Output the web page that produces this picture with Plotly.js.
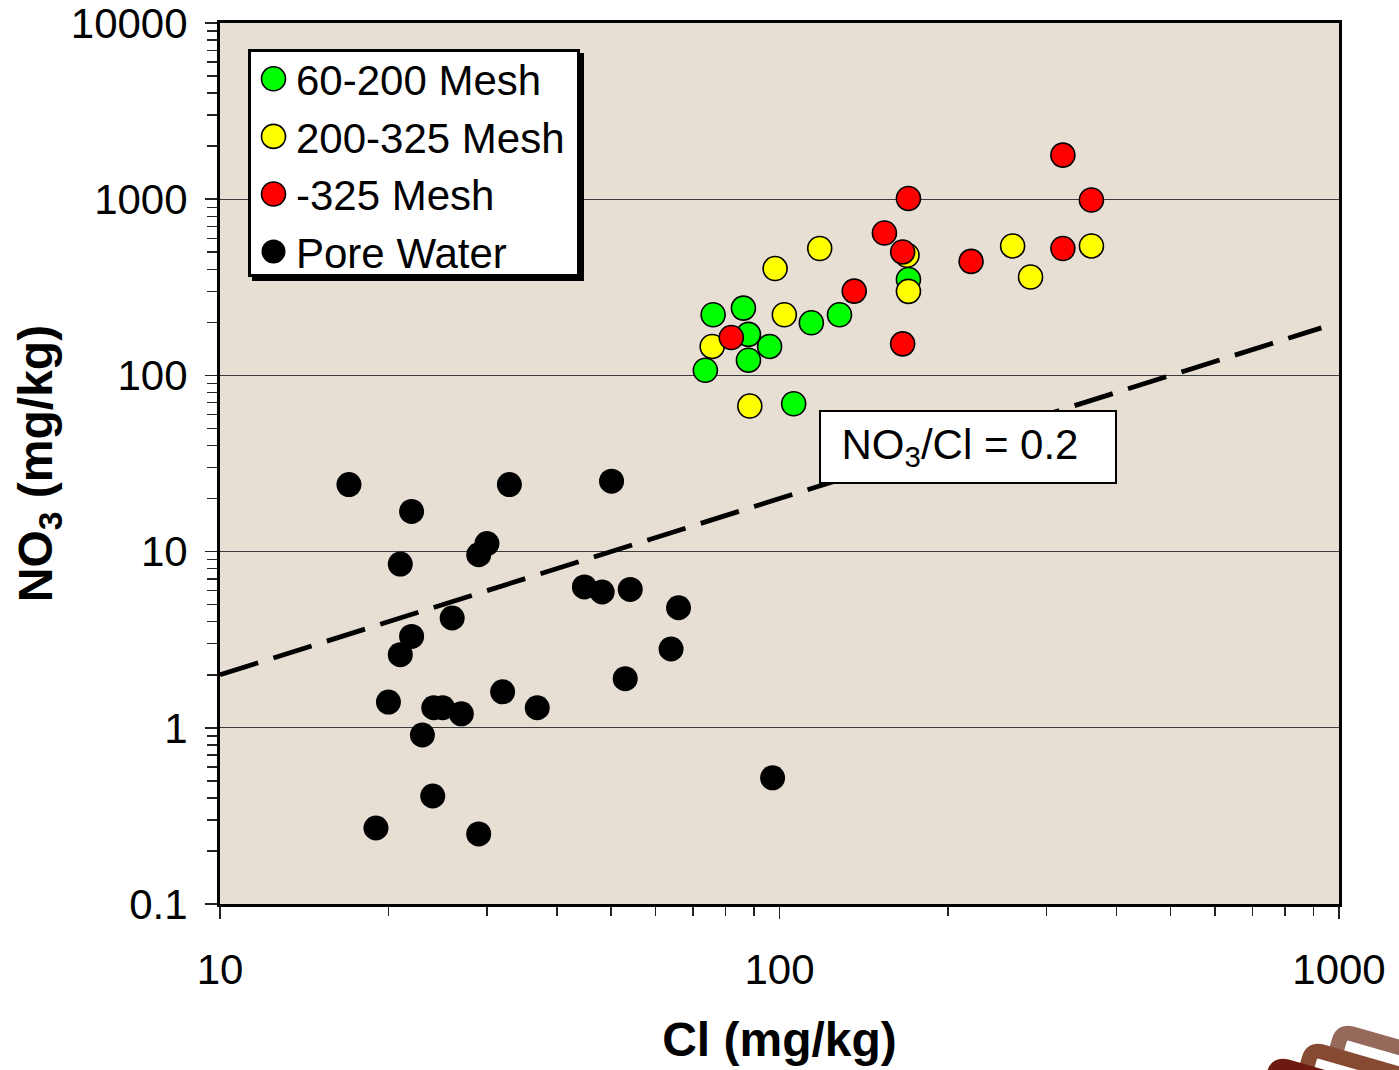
<!DOCTYPE html>
<html>
<head>
<meta charset="utf-8">
<script src="https://cdn.plot.ly/plotly-3.0.1.min.js"></script>
<style>
  html, body { margin: 0; padding: 0; background: #ffffff; }
  #chart { width: 1399px; height: 1070px; }
</style>
</head>
<body>
<div id="chart"></div>
<script>
// ---- Data ----
const greenName = '60-200 Mesh';
const greenCl  = [170, 76.1, 86.2, 88.0, 96.0, 88.0, 114, 128, 73.7, 106];
const greenNO3 = [350, 221, 241, 171, 146, 122, 199, 221, 107, 69];

const yellowName = '200-325 Mesh';
const yellowCl  = [118, 261, 361, 169, 98.2, 281, 170, 102, 75.8, 88.5];
const yellowNO3 = [525, 543, 543, 481, 404, 362, 300, 221, 146, 67];

const redName = '-325 Mesh';
const redCl  = [321, 170, 361, 154, 166, 321, 220, 136, 82, 166];
const redNO3 = [1780, 1010, 990, 643, 502, 525, 444, 301, 164, 151];

const poreName = 'Pore Water';
const poreCl  = [17.0, 32.9, 50.1, 22.0, 30.0, 29.0, 21.0, 44.8, 48.2, 54.1, 66.0, 26.0, 22.0, 21.0, 64.0, 53.0, 20.0, 24.1, 25.0, 27.0, 32.0, 36.9, 23.0, 24.0, 19.0, 29.0, 97.2];
const poreNO3 = [24.0, 24.0, 25.1, 16.9, 11.1, 9.6, 8.5, 6.3, 5.9, 6.1, 4.8, 4.2, 3.3, 2.6, 2.8, 1.9, 1.4, 1.3, 1.3, 1.2, 1.6, 1.3, 0.91, 0.41, 0.27, 0.25, 0.52];

// NO3/Cl = 0.2 reference line
const ratioCl  = [10, 930];
const ratioNO3 = [2, 186];
const ratioLabel = 'NO<sub>3</sub>/Cl = 0.2';
const ratioLabelCl = 217;
const ratioLabelNO3 = 39;

// Axis ticks
const xTickVals = [10, 100, 1000];
const xTickText = ['10', '100', '1000'];
const yTickVals = [0.1, 1, 10, 100, 1000, 10000];
const yTickText = ['0.1', '1', '10', '100', '1000', '10000'];
const xTitle = 'Cl (mg/kg)';
const yTitle = 'NO<sub>3</sub> (mg/kg)';

// minor tick positions (2..9 in each decade)
function minorTicks(decades) {
  const out = [];
  decades.forEach(d => { for (let k = 2; k <= 9; k++) out.push(k * d); });
  return out;
}
const xMinor = minorTicks([10, 100]);
const yMinor = minorTicks([0.1, 1, 10, 100, 1000]);

// ---- Styling ----
const FONT = 'Liberation Sans, Arial, Helvetica, sans-serif';
const markerLine = { color: '#000000', width: 1.6 };

const traces = [
  { type: 'scatter', mode: 'markers', name: greenName, x: greenCl, y: greenNO3,
    marker: { color: '#00ff00', size: 24, line: markerLine } },
  { type: 'scatter', mode: 'markers', name: yellowName, x: yellowCl, y: yellowNO3,
    marker: { color: '#ffff00', size: 24, line: markerLine } },
  { type: 'scatter', mode: 'markers', name: redName, x: redCl, y: redNO3,
    marker: { color: '#ff0000', size: 24, line: markerLine } },
  { type: 'scatter', mode: 'markers', name: poreName, x: poreCl, y: poreNO3,
    marker: { color: '#000000', size: 25, line: { color: '#000000', width: 0 } } },
  { type: 'scatter', mode: 'lines', name: 'ratio', x: ratioCl, y: ratioNO3, showlegend: false,
    line: { color: '#000000', width: 4.8, dash: '40px,16px' }, hoverinfo: 'skip' }
];

// Plot area in pixels: left 220, right 1339, top 23, bottom 904
const PL = 220, PR = 1339, PT = 23, PB = 904;
function px(x) { return (x - PL) / (PR - PL); }
function py(y) { return (PB - y) / (PB - PT); }

// decorative logo (bottom right corner), rotated rounded frames
function framePath(cx, cy) {
  const a = 16 * Math.PI / 180;
  const u = [Math.cos(a), Math.sin(a)], v = [-Math.sin(a), Math.cos(a)];
  const r = 10;
  const p = (s, t) => [cx + s * u[0] + t * v[0], cy + s * u[1] + t * v[1]];
  const pts = [p(0, 80), p(0, r), p(0, 0), p(r, 0), p(220, 0), p(220, 80)];
  const f = q => px(q[0]).toFixed(5) + ',' + py(q[1]).toFixed(5);
  return 'M' + f(pts[0]) + ' L' + f(pts[1]) + ' Q' + f(pts[2]) + ' ' + f(pts[3]) +
         ' L' + f(pts[4]) + ' L' + f(pts[5]) + ' Z';
}
const logoShapes = [
  { c: [1342, 1031], col: '#956a5a' },
  { c: [1312, 1049], col: '#864a33' },
  { c: [1277, 1064], col: '#6e1a10' }
].map(o => ({
  type: 'path', xref: 'paper', yref: 'paper', layer: 'above',
  path: framePath(o.c[0], o.c[1]),
  fillcolor: '#ffffff', line: { color: o.col, width: 15 }
}));

const layout = {
  width: 1399, height: 1070,
  margin: { l: PL, r: 1399 - PR, t: PT, b: 1070 - PB, pad: 0 },
  paper_bgcolor: '#ffffff',
  plot_bgcolor: '#e7dfd3',
  font: { family: FONT, color: '#000000', size: 42 },
  showlegend: true,
  legend: {
    x: px(248), y: py(42), xanchor: 'left', yanchor: 'top',
    bgcolor: '#ffffff', bordercolor: '#000000', borderwidth: 3,
    font: { family: FONT, size: 42, color: '#000000' },
    itemwidth: 35,
    tracegroupgap: 0, itemclick: false, itemdoubleclick: false
  },
  xaxis: {
    type: 'log', range: [1, 3],
    tickmode: 'array', tickvals: xTickVals, ticktext: xTickText,
    ticks: 'outside', ticklen: 12, tickwidth: 1.5, tickcolor: '#222222',
    ticklabelstandoff: 15, ticklabeloverflow: 'allow',
    tickfont: { family: FONT, size: 42, color: '#000000' },
    showgrid: false, zeroline: false,
    showline: true, linecolor: '#000000', linewidth: 3, mirror: true,
    minor: { tickmode: 'array', tickvals: xMinor, ticks: 'outside', ticklen: 9,
             tickwidth: 1.5, tickcolor: '#222222', showgrid: false },
    title: { text: xTitle, standoff: 30,
             font: { family: FONT, size: 48, color: '#000000', weight: 'bold' } }
  },
  yaxis: {
    type: 'log', range: [-1, 4],
    tickmode: 'array', tickvals: yTickVals, ticktext: yTickText,
    ticks: 'outside', ticklen: 12, tickwidth: 1.5, tickcolor: '#222222',
    ticklabelstandoff: 9, ticklabeloverflow: 'allow',
    tickfont: { family: FONT, size: 42, color: '#000000' },
    showgrid: true, gridcolor: '#3c3c3c', gridwidth: 1, zeroline: false,
    showline: true, linecolor: '#000000', linewidth: 3, mirror: true,
    minor: { tickmode: 'array', tickvals: yMinor, ticks: 'outside', ticklen: 10,
             tickwidth: 1.5, tickcolor: '#222222', showgrid: false },
    title: { text: yTitle, standoff: 4,
             font: { family: FONT, size: 48, color: '#000000', weight: 'bold' } }
  },
  annotations: [{
    xref: 'x', yref: 'y',
    x: Math.log10(ratioLabelCl), y: Math.log10(ratioLabelNO3),
    xanchor: 'center', yanchor: 'middle',
    text: ratioLabel, showarrow: false,
    font: { family: FONT, size: 42, color: '#000000' },
    bgcolor: '#ffffff', bordercolor: '#000000', borderwidth: 2,
    width: 292, height: 68, align: 'center', valign: 'middle'
  }],
  shapes: logoShapes
};

Plotly.newPlot('chart', traces, layout, { displayModeBar: false, staticPlot: true }).then(gd => {
  // enlarge legend symbols to match the plotted markers
  gd.querySelectorAll('.legend .legendpoints path.scatterpts').forEach(p => {
    const t = p.getAttribute('transform') || '';
    p.setAttribute('transform', t + ' scale(1.5)');
    const sw = parseFloat(p.style.strokeWidth || '0');
    if (sw > 0) p.style.strokeWidth = (sw / 1.5).toFixed(2) + 'px';
  });
  // fit legend box and add a drop shadow
  const bg = gd.querySelector('.legend rect.bg');
  if (bg) {
    const r = bg.getBoundingClientRect();
    const tx = 249.5, ty = 50.5, tw = 329, th = 225;
    bg.setAttribute('x', (+bg.getAttribute('x') || 0) + (tx - r.left));
    bg.setAttribute('y', (+bg.getAttribute('y') || 0) + (ty - r.top));
    bg.setAttribute('width', tw);
    bg.setAttribute('height', th);
    const sh = bg.cloneNode(false);
    sh.setAttribute('class', 'legshadow');
    sh.style.fill = '#000000';
    sh.style.stroke = '#000000';
    const t = bg.getAttribute('transform') || '';
    sh.setAttribute('transform', t + ' translate(4,4)');
    bg.parentNode.insertBefore(sh, bg);
  }
  // nudge the ratio label text slightly left inside its box
  const at = gd.querySelector('.annotation .annotation-text');
  if (at) {
    const t = at.getAttribute('transform') || '';
    at.setAttribute('transform', t + ' translate(-8,0)');
  }
});
</script>
</body>
</html>
